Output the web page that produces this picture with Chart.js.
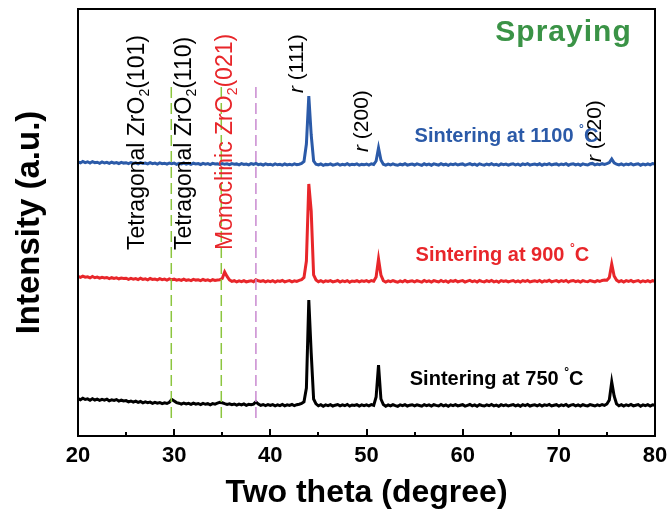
<!DOCTYPE html>
<html>
<head>
<meta charset="utf-8">
<script src="https://cdn.jsdelivr.net/npm/chart.js@4.4.0/dist/chart.umd.min.js"></script>
<style>
  html, body { margin: 0; padding: 0; background: #fff; }
</style>
</head>
<body>
<canvas id="xrd" width="667" height="512"></canvas>
<script>
// 2-theta sampling of the scans
const thetaStart = 20;
const thetaStep = 0.25;

// vertical offsets used to stack the three scans (a.u.)
const base750 = 31;
const base900 = 155;
const base1100 = 272;

// relative intensity, one value every 0.25 deg from 20 to 80
const xrd750 = [
  6.5, 5.2, 6.8, 5.5, 6.1, 4.8, 6.3, 5.0, 5.9, 4.6, 5.6, 4.9, 5.8, 4.2, 5.1, 4.5, 5.4, 3.9, 4.8, 4.1,
  4.4, 3.2, 4.0, 2.9, 3.8, 2.6, 3.5, 2.2, 3.1, 2.4, 2.9, 1.6, 2.7, 1.9, 2.5, 1.3, 2.2, 1.5, 2.8, 5.5,
  4.0, 2.4, 1.8, 0.9, 2.0, 1.1, 1.7, 0.6, 1.9, 0.8, 1.5, 0.4, 1.6, 0.7, 1.3, 0.2, 1.4, 0.9, 1.8, 2.6,
  2.2, 1.3, 0.6, 1.2, 0.3, 1.0, -0.2, 0.9, 0.1, 1.1, -0.3, 0.7, 0.2, 0.9, 3.2, 1.0, -0.4, 0.5, -0.6, 0.3,
  -0.5, 0.4, -0.8, 0.2, -0.6, 0.5, -0.9, 0.1, -0.4, 0.6, -0.7, 0.3, 0.8, 1.6, 3.2, 17, 105, 52, 6, 1.2,
  -0.8, 0.3, -1.2, 0.1, -0.6, 0.4, -1.0, -0.2, 0.5, -0.9, 0.2, -0.7, 0.6, -1.1, 0.0, -0.5, 0.3, -1.0, 0.1, -0.6,
  0.2, -0.8, 0.4, -0.3, 8, 40, 6, 0.4, -1.2, 0.1, -0.9, 0.3, -0.6, -1.3, 0.2, -0.7, 0.4, -1.0, -0.2, 0.3,
  -0.9, 0.2, -0.5, -1.2, 0.4, -0.7, 0.1, -1.1, 0.3, -0.4, -1.0, 0.5, -0.8, 0.0, -1.3, 0.2, -0.6, 0.4, -0.9, -0.2,
  0.3, -1.1, -0.3, 0.5, -0.8, 0.1, -1.2, 0.4, -0.5, -1.0, 0.2, -0.7, 0.6, -0.9, -0.1, -1.3, 0.3, -0.6, 0.1, -1.0,
  -0.2, 0.4, -0.9, 0.0, -1.2, 0.3, -0.6, 0.5, -1.0, -0.3, 0.2, -0.8, 0.4, -1.1, 0.1, -0.5, 0.6, -0.9, -0.2, 0.3,
  -1.0, 0.2, -0.6, 0.5, -1.2, -0.1, 0.4, -0.8, 0.1, -1.1, 0.3, -0.5, -0.9, 0.4, -0.3, -1.0, 0.2, -0.6, 0.5, -0.4,
  1.0, 5, 23, 9, 1.2, -0.8, 0.3, -1.1, 0.2, -0.6, 0.5, -0.9, -0.2, 0.4, -1.2, 0.1, -0.7, 0.3, -1.0, 0.2,
  -0.4
];
const xrd900 = [
  4.5, 3.6, 4.9, 3.8, 4.2, 3.1, 4.6, 3.3, 3.9, 2.8, 3.7, 3.0, 3.5, 2.4, 3.3, 2.6, 3.1, 2.2, 2.9, 2.5,
  2.8, 1.7, 2.6, 1.9, 2.4, 1.4, 2.7, 1.6, 2.2, 1.2, 2.5, 1.5, 2.0, 1.1, 2.3, 1.3, 1.9, 0.9, 2.1, 1.2,
  1.8, 0.8, 1.5, 0.6, 1.9, 0.7, 1.3, 0.4, 1.6, 0.9, 1.2, 0.3, 1.5, 0.6, 1.1, 0.2, 1.4, 0.5, 0.9, 1.3,
  2.5, 9, 4.5, 1.2, -0.4, 0.3, -0.8, 0.1, -0.6, 0.4, -0.9, -0.2, 0.3, -0.7, 1.2, 0.2, -0.5, 0.4, -0.9, 0.1,
  -0.6, 0.3, -1.0, 0.2, -0.5, 0.5, -0.9, -0.1, 0.4, -0.8, 0.2, -0.4, 0.6, 1.4, 3.5, 20, 97, 70, 6, 1.0,
  -0.7, 0.4, -1.1, 0.1, -0.5, 0.3, -0.9, -0.3, 0.5, -1.0, 0.2, -0.6, 0.4, -1.2, 0.0, -0.4, 0.3, -0.9, 0.2, -0.5,
  0.3, -0.9, 0.5, -0.2, 4, 22, 6, 0.3, -1.0, 0.2, -0.7, 0.4, -0.5, -1.2, 0.1, -0.8, 0.5, -0.9, -0.3, 0.2,
  -0.8, 0.3, -0.4, -1.1, 0.5, -0.6, 0.2, -1.0, 0.4, -0.3, -0.9, 0.6, -0.7, 0.1, -1.2, 0.3, -0.5, 0.5, -0.8, -0.1,
  0.4, -1.0, -0.2, 0.6, -0.7, 0.2, -1.1, 0.5, -0.4, -0.9, 0.3, -0.6, 0.5, -0.8, 0.0, -1.2, 0.4, -0.5, 0.2, -0.9,
  -0.1, 0.5, -0.8, 0.1, -1.1, 0.4, -0.5, 0.6, -0.9, -0.2, 0.3, -0.7, 0.5, -1.0, 0.2, -0.4, 0.7, -0.8, -0.1, 0.4,
  -0.9, 0.3, -0.5, 0.6, -1.1, 0.0, 0.5, -0.7, 0.2, -1.0, 0.4, -0.4, -0.8, 0.5, -0.2, -0.9, 0.3, -0.5, 0.6, 1.0,
  0.8, 3.5, 17, 5, 0.9, -0.7, 0.4, -1.0, 0.3, -0.5, 0.6, -0.8, -0.1, 0.5, -1.1, 0.2, -0.6, 0.4, -0.9, 0.3,
  -0.3
];
const xrd1100 = [
  2.0, 1.1, 2.6, 1.4, 2.2, 0.9, 2.4, 1.3, 1.8, 0.7, 2.1, 1.0, 1.7, 0.6, 1.9, 0.8, 1.5, 0.5, 1.6, 0.9,
  1.3, 0.4, 1.5, 0.6, 1.2, 0.2, 1.4, 0.5, 1.0, 0.1, 1.3, 0.4, 0.9, -0.1, 1.1, 0.3, 0.8, -0.2, 1.0, 0.2,
  0.9, -0.3, 0.7, 0.0, 1.0, -0.2, 0.6, -0.4, 0.8, 0.1, 0.5, -0.5, 0.7, -0.1, 0.4, -0.6, 0.6, 0.0, 0.3, -0.4,
  0.5, -0.3, 0.2, -0.7, 0.4, -0.2, 0.1, -0.8, 0.3, -0.5, 0.0, -0.9, 0.4, -0.3, 0.6, -0.6, -0.1, -1.0, 0.2, -0.7,
  -0.2, -1.1, 0.1, -0.8, -0.3, -1.2, 0.0, -0.9, -0.4, -1.0, 0.2, -0.7, -0.2, 0.5, 2.5, 20, 68, 29, 3, -0.3,
  -1.0, 0.0, -1.3, -0.4, -0.8, 0.1, -1.1, -0.5, 0.2, -1.2, -0.3, -0.9, 0.3, -1.0, -0.2, -0.7, 0.1, -1.2, -0.4, -0.8,
  0.0, -1.1, 0.2, -0.5, 3, 16, 4, -0.2, -1.2, -0.1, -1.0, 0.1, -0.8, -1.3, -0.2, -0.9, 0.2, -1.1, -0.5, 0.0,
  -1.0, 0.1, -0.6, -1.3, 0.2, -0.8, -0.1, -1.2, 0.1, -0.5, -1.1, 0.3, -0.9, -0.2, -1.3, 0.0, -0.7, 0.2, -1.0, -0.3,
  0.1, -1.2, -0.4, 0.3, -0.9, -0.1, -1.3, 0.2, -0.6, -1.1, 0.0, -0.8, 0.3, -1.0, -0.3, -1.3, 0.1, -0.7, -0.1, -1.1,
  -0.3, 0.2, -1.0, -0.2, -1.3, 0.1, -0.7, 0.3, -1.1, -0.4, 0.0, -0.9, 0.2, -1.2, -0.1, -0.6, 0.4, -1.0, -0.3, 0.1,
  -1.1, 0.0, -0.7, 0.3, -1.2, -0.2, 0.2, -0.9, -0.1, -1.2, 0.1, -0.6, -1.0, 0.2, 0.6, -0.8, 0.0, -0.6, 0.3, -0.4,
  0.3, 1.5, 5, 1.2, -0.2, -0.9, 0.1, -1.1, 0.0, -0.7, 0.3, -1.0, -0.3, 0.2, -1.2, -0.1, -0.8, 0.2, -0.9, 0.5,
  0.0
];

// reference phase positions (2 theta) and the span of the dashed markers
const refTheta = [29.7, 34.9, 38.5];
const refColors = ['#8cc63f', '#8cc63f', '#c98ad0'];
const refSpan = [18, 350];

const FONT = '"Liberation Sans", Arial, sans-serif';

function toPoints(values, base) {
  return values.map((v, i) => ({ x: thetaStart + i * thetaStep, y: base + v }));
}

function fontStr(size, bold, italic) {
  return (italic ? 'italic ' : '') + (bold ? 'bold ' : '') + size + 'px ' + FONT;
}

// draw a run of text pieces (sub/superscripts, italics) starting at the origin
function drawParts(ctx, parts, size, bold, color) {
  let x = 0;
  for (const p of parts) {
    const fs = p.s ? Math.round(size * 0.62) : size;
    ctx.font = fontStr(fs, bold, p.i);
    const dy = p.s === 'sub' ? size * 0.32 : (p.s === 'sup' ? -size * 0.32 : 0);
    ctx.fillStyle = p.c || color;
    ctx.fillText(p.t, x, dy);
    x += ctx.measureText(p.t).width;
  }
}

// rotated peak / phase labels: anchor theta and intensity where the text starts
const vLabels = [
  { theta: 26.2, y: 186, size: 23, color: '#000', parts: [{ t: 'Tetragonal ZrO' }, { t: '2', s: 'sub' }, { t: '(101)' }] },
  { theta: 31.1, y: 186, size: 23, color: '#000', parts: [{ t: 'Tetragonal ZrO' }, { t: '2', s: 'sub' }, { t: '(110)' }] },
  { theta: 35.4, y: 186, size: 23, color: '#e8262a', parts: [{ t: 'Monoclinic ZrO' }, { t: '2', s: 'sub' }, { t: '(021)' }] },
  { theta: 42.8, y: 343, size: 21, color: '#000', parts: [{ t: 'r', i: true }, { t: ' (111)' }] },
  { theta: 49.6, y: 284, size: 21, color: '#000', parts: [{ t: 'r', i: true }, { t: ' (200)' }] },
  { theta: 73.8, y: 274, size: 21, color: '#000', parts: [{ t: 'r', i: true }, { t: ' (220)' }] }
];

const hLabels = [
  { theta: 55.0, y: 300, color: '#2b5aa8', size: 20, parts: [{ t: 'Sintering at 1100 ' }, { t: '°', s: 'sup' }, { t: 'C' }] },
  { theta: 55.1, y: 181, color: '#e8262a', size: 20, parts: [{ t: 'Sintering at 900 ' }, { t: '°', s: 'sup' }, { t: 'C' }] },
  { theta: 54.5, y: 57, color: '#000', size: 20, parts: [{ t: 'Sintering at 750 ' }, { t: '°', s: 'sup' }, { t: 'C' }] },
  { theta: 63.4, y: 403, color: '#3a9346', size: 30, parts: [{ t: 'Spraying' }] }
];

const decor = {
  id: 'decor',
  afterDatasetsDraw(chart) {
    const { ctx, chartArea: a, scales: { x, y } } = chart;
    ctx.save();
    // frame
    ctx.strokeStyle = '#000';
    ctx.lineWidth = 2;
    ctx.strokeRect(a.left, a.top, a.right - a.left, a.bottom - a.top);
    // inward ticks on the bottom axis
    for (let v = 20; v <= 80; v += 5) {
      const px = Math.round(x.getPixelForValue(v));
      const len = v % 10 === 0 ? 7 : 4;
      ctx.beginPath();
      ctx.moveTo(px, a.bottom);
      ctx.lineTo(px, a.bottom - len);
      ctx.stroke();
    }
    ctx.textAlign = 'left';
    ctx.textBaseline = 'middle';
    for (const l of vLabels) {
      ctx.save();
      ctx.translate(x.getPixelForValue(l.theta), y.getPixelForValue(l.y));
      ctx.rotate(-Math.PI / 2);
      drawParts(ctx, l.parts, l.size, false, l.color);
      ctx.restore();
    }
    for (const l of hLabels) {
      ctx.save();
      ctx.translate(x.getPixelForValue(l.theta), y.getPixelForValue(l.y));
      if (l.size > 24) ctx.letterSpacing = '1px';
      drawParts(ctx, l.parts, l.size, true, l.color);
      ctx.restore();
    }
    ctx.restore();
  }
};

const refSets = refTheta.map((t, i) => ({
  data: [{ x: t, y: refSpan[0] }, { x: t, y: refSpan[1] }],
  borderColor: refColors[i],
  borderWidth: 1.5,
  borderDash: [11, 5],
  pointRadius: 0,
  order: 0
}));

const scanSet = (vals, base, color) => ({
  data: toPoints(vals, base),
  borderColor: color,
  borderWidth: 3,
  pointRadius: 0,
  tension: 0,
  order: 1
});

new Chart(document.getElementById('xrd'), {
  type: 'line',
  data: {
    datasets: [
      ...refSets,
      scanSet(xrd1100, base1100, '#2b5aa8'),
      scanSet(xrd900, base900, '#e8262a'),
      scanSet(xrd750, base750, '#000000')
    ]
  },
  plugins: [decor],
  options: {
    responsive: false,
    animation: false,
    devicePixelRatio: 1,
    layout: { padding: { top: 9, right: 12, left: 0, bottom: 0 } },
    plugins: { legend: { display: false }, tooltip: { enabled: false } },
    scales: {
      x: {
        type: 'linear',
        min: 20,
        max: 80,
        grid: { display: false, drawTicks: false },
        border: { display: false },
        ticks: {
          stepSize: 10,
          autoSkip: false,
          maxRotation: 0,
          padding: 7,
          color: '#000',
          font: { family: FONT, size: 22, weight: 'bold' }
        },
        title: {
          display: true,
          text: 'Two theta (degree)',
          color: '#000',
          font: { family: FONT, size: 32, weight: 'bold' },
          padding: { top: 0, bottom: 0 }
        },
        afterFit(s) { s.height = 76; s.paddingLeft = 0; s.paddingRight = 0; }
      },
      y: {
        min: 0,
        max: 427,
        grid: { display: false, drawTicks: false },
        border: { display: false },
        ticks: { display: false },
        title: {
          display: true,
          text: 'Intensity (a.u.)',
          color: '#000',
          font: { family: FONT, size: 33, weight: 'bold' },
          padding: { top: 10, bottom: 0 }
        },
        afterFit(s) { s.width = 78; }
      }
    }
  }
});
</script>
</body>
</html>
